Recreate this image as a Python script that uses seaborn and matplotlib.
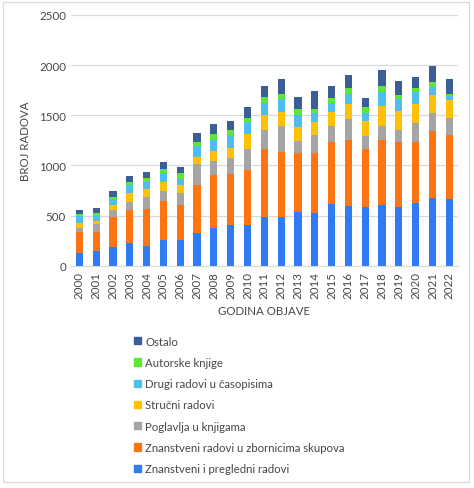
import matplotlib
matplotlib.use("Agg")
import matplotlib.pyplot as plt
import matplotlib.patches as mpatches
import numpy as np
import pandas as pd
import seaborn as sns

years = [str(y) for y in range(2000, 2023)]

znanstveni_pregledni = [127, 143, 190, 230, 197, 257, 253, 330, 380, 403, 403, 490,
                        487, 540, 523, 617, 597, 583, 603, 587, 630, 677, 667]
zbornici_skupova = [207, 194, 297, 323, 370, 390, 357, 477, 523, 507, 550, 673,
                    643, 587, 604, 613, 656, 580, 654, 650, 603, 663, 633]
poglavlja = [40, 80, 66, 87, 116, 100, 113, 203, 144, 160, 210, 190,
             263, 113, 180, 160, 207, 134, 140, 116, 190, 183, 177]
strucni = [53, 33, 50, 80, 77, 83, 77, 77, 100, 103, 150, 150,
           137, 143, 126, 147, 150, 150, 193, 194, 194, 180, 180]
drugi_casopisi = [67, 50, 64, 80, 73, 93, 67, 103, 106, 130, 117, 124,
                  130, 124, 94, 86, 100, 80, 143, 113, 116, 80, 43]
autorske_knjige = [20, 27, 20, 33, 40, 44, 56, 43, 60, 47, 47, 53,
                   53, 53, 33, 54, 57, 53, 54, 40, 40, 50, 17]
ostalo = [40, 46, 56, 60, 60, 66, 64, 87, 97, 90, 106, 113,
          144, 127, 183, 116, 136, 97, 163, 137, 104, 160, 146]

series = [
    ("Znanstveni i pregledni radovi", znanstveni_pregledni, "#2e7cf0"),
    ("Znanstveni radovi u zbornicima skupova", zbornici_skupova, "#ff7412"),
    ("Poglavlja u knjigama", poglavlja, "#a5a5a5"),
    ("Stručni radovi", strucni, "#ffc107"),
    ("Drugi radovi u časopisima", drugi_casopisi, "#4dbfee"),
    ("Autorske knjige", autorske_knjige, "#5ee635"),
    ("Ostalo", ostalo, "#3b5e96"),
]

sns.set_style("white")
plt.rcParams["font.family"] = ["Lato", "DejaVu Sans"]
text_color = "#474747"
grid_color = "#d9d9d9"

fig = plt.figure(figsize=(4.74, 4.89), dpi=100)
ax = fig.add_axes([0.1496, 0.4546, 0.816, 0.5127])

bottom = np.zeros(len(years))
handles = []
for name, vals, color in series:
    df = pd.DataFrame({"year": years, "value": vals})
    sns.barplot(data=df, x="year", y="value", bottom=bottom, color=color,
                width=0.43, errorbar=None, ax=ax, linewidth=0, saturation=1)
    bottom = bottom + np.array(vals)
    handles.append(mpatches.Patch(color=color, label=name))

ax.set_xlim(-0.5, 22.5)
ax.set_ylim(0, 2500)
ax.set_yticks(range(0, 2501, 500))
ax.yaxis.grid(True, color=grid_color, linewidth=0.9)
ax.set_axisbelow(True)
for s in ["top", "right", "left"]:
    ax.spines[s].set_visible(False)
ax.spines["bottom"].set_color(grid_color)
ax.tick_params(axis="both", length=0, colors=text_color, labelsize=8.3)
ax.tick_params(axis="x", pad=4)
plt.setp(ax.get_xticklabels(), rotation=90)
ax.set_xlabel("GODINA OBJAVE", color=text_color, fontsize=8.3, labelpad=5)
ax.set_ylabel("BROJ RADOVA", color=text_color, fontsize=8.3, labelpad=6)

fig.legend(handles=handles[::-1], loc="upper left",
           bbox_to_anchor=(128 / 474, 1 - 331 / 489), frameon=False,
           fontsize=8.2, handlelength=0.6, handleheight=0.6, handletextpad=0.4,
           labelspacing=0.9, borderpad=0, labelcolor=text_color)

fig.patches.append(mpatches.Rectangle((3 / 474, 1 - 483 / 489), 466 / 474, 480 / 489,
                                      transform=fig.transFigure, fill=False,
                                      edgecolor=grid_color, linewidth=0.9))

fig.savefig("out.png", dpi=100)
